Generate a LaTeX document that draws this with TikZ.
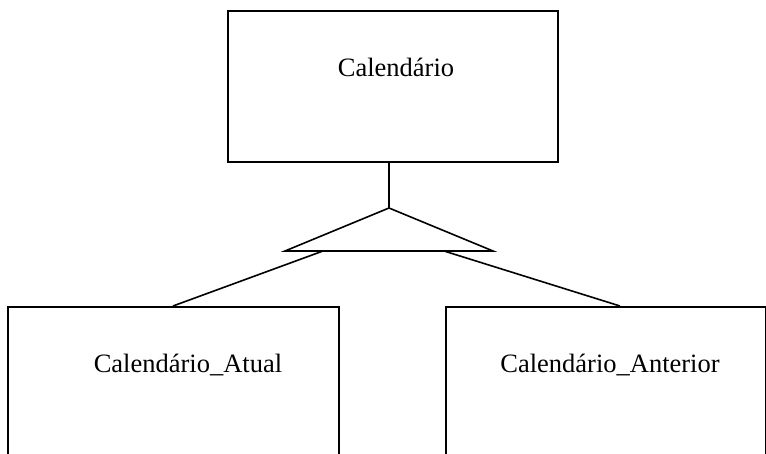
\documentclass[tikz,border=0pt]{standalone}
\usepackage{fontspec}
\setmainfont{Liberation Serif}
\begin{document}
\begin{tikzpicture}[x=1pt,y=-1pt,
  ent/.style={draw=black,line width=1.6pt,rectangle,inner sep=0pt,anchor=north west},
  lbl/.style={inner sep=0pt,anchor=base,font=\fontsize{26.5}{30}\selectfont},
  ln/.style={draw=black,line width=1.6pt}]
\useasboundingbox[fill=white] (0,0) rectangle (766,454);
% entity boxes
\node[ent,minimum width=330pt,minimum height=151pt] (top) at (227,10) {};
\node[ent,minimum width=331pt,minimum height=170pt] (left) at (7,306) {};
\node[ent,minimum width=320pt,minimum height=170pt] (right) at (445,306) {};
% labels
\node[lbl] (ttop) at (396,77) {Calendário};
\node[lbl] (tleft) at (188,373) {Calendário\_Atual};
\node[lbl] (tright) at (610,373) {Calendário\_Anterior};
% specialisation triangle
\coordinate (apex) at (389,208);
\coordinate (bl) at (285,251);
\coordinate (br) at (493,251);
\coordinate (la) at (323,251);
\coordinate (ra) at (444,251);
\coordinate (lend) at (173,306);
\coordinate (rend) at (620,306);
\draw[ln,line join=miter] (apex) -- (bl) -- (br) -- cycle;
\draw[ln] (apex |- top.south) -- (apex);
\draw[ln] (la) -- (lend);
\draw[ln] (ra) -- (rend);
\end{tikzpicture}
\end{document}
